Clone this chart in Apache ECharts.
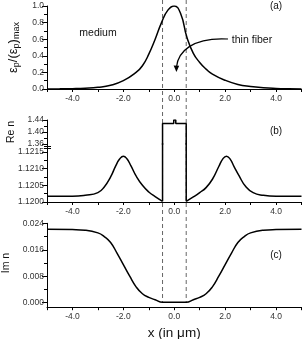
<!DOCTYPE html>
<html><head><meta charset="utf-8">
<script src="https://cdn.jsdelivr.net/npm/echarts@6/dist/echarts.min.js"></script>
<style>html,body{margin:0;padding:0;background:#fff}#c{width:304px;height:339px}</style>
</head><body><div id="c"></div>
<script>
// Panel (a): normalized intensity
const aX = [-5, -4.5, -4, -3.5, -3, -2.5, -2, -1.5, -1.25, -1, -0.75, -0.5, -0.25, 0, 0.25, 0.5, 0.75, 1, 1.25, 1.5, 2, 2.5, 3, 3.5, 4, 4.5, 5];
const aY = [0.001, 0.002, 0.004, 0.009, 0.02, 0.045, 0.10, 0.20, 0.28, 0.42, 0.60, 0.80, 0.95, 1.0, 0.91, 0.62, 0.43, 0.32, 0.24, 0.18, 0.105, 0.055, 0.03, 0.015, 0.007, 0.003, 0.001];
// Panel (b): Re n
const bLeftX = [-5, -4, -3.5, -3, -2.75, -2.5, -2.3, -2.14, -2, -1.86, -1.7, -1.5, -1.25, -1, -0.75, -0.46];
const bLeftY = [1.12017, 1.12017, 1.12020, 1.12028, 1.12045, 1.12075, 1.12108, 1.12129, 1.12137, 1.12129, 1.12108, 1.12078, 1.12050, 1.12030, 1.12016, 1.12002];
const bRightX = [0.47, 0.75, 1.0, 1.25, 1.5, 1.75, 1.91, 2.05, 2.19, 2.35, 2.55, 2.8, 3.1, 3.5, 4, 5];
const bRightY = [1.12002, 1.12015, 1.12028, 1.12043, 1.12068, 1.12106, 1.12129, 1.12137, 1.12129, 1.12106, 1.12078, 1.12047, 1.12028, 1.12020, 1.12017, 1.12017];
const stepX = [-0.46, -0.46, -0.02, -0.02, 0.06, 0.06, 0.47, 0.47];
const stepY = [1.12002, 1.428, 1.428, 1.44, 1.44, 1.428, 1.428, 1.12002];
// Panel (c): Im n
const cX = [-5, -4, -3.5, -3, -2.75, -2.5, -2.25, -2, -1.75, -1.5, -1.25, -1, -0.75, -0.46, 0.47, 0.75, 1, 1.25, 1.5, 1.75, 2, 2.25, 2.5, 2.75, 3, 3.5, 4, 5];
const cY = [0.0222, 0.0221, 0.0219, 0.0211, 0.0200, 0.0182, 0.0150, 0.0115, 0.0080, 0.0048, 0.0027, 0.0016, 0.0009, 0.0001, 0.0001, 0.0009, 0.0016, 0.0027, 0.0048, 0.0080, 0.0115, 0.0150, 0.0182, 0.0200, 0.0211, 0.0219, 0.0221, 0.0222];
// Ticks / labels
const xTickLabels = [-4, -2, 0, 2, 4];
const fiberEdges = [-0.46, 0.47];
const yTicksA = {min: 0, max: 1, interval: 0.2};
const yTicksBUp = {min: 1.36, max: 1.44, interval: 0.04};
const yTicksBLow = {min: 1.1200, max: 1.121733, interval: 0.0005};
const yTicksC = {min: 0, max: 0.024, interval: 0.008};

const pairs = (xs, ys) => xs.map((x, i) => [x, ys[i]]);
const FONT = 'Liberation Sans, Arial, sans-serif';
const chart = echarts.init(document.getElementById('c'), null, {renderer: 'canvas'});
const X_OFFSET_C = 4.5;

function xAxisCfg(grid, extra) {
  return Object.assign({
    type: 'value', gridIndex: grid, min: -5, max: 5, interval: 1,
    axisLine: {show: true, onZero: false, lineStyle: {color: '#000', width: 1}},
    axisTick: {show: true, length: 3, lineStyle: {color: '#000'}},
    axisLabel: {
      fontSize: 8.5, color: '#333', fontFamily: FONT, margin: 5,
      formatter: v => xTickLabels.some(t => Math.abs(t - v) < 1e-9) ? v.toFixed(1) : ''
    },
    splitLine: {show: false}
  }, extra || {});
}
function yAxisCfg(grid, t, dec, extra) {
  return Object.assign({
    type: 'value', gridIndex: grid, min: t.min, max: t.max, interval: t.interval,
    axisLine: {show: true, onZero: false, lineStyle: {color: '#000', width: 1}},
    axisTick: {show: true, length: 5, lineStyle: {color: '#000'}},
    minorTick: {show: true, splitNumber: 2, length: 3, lineStyle: {color: '#000'}},
    axisLabel: {fontSize: 8.5, color: '#333', fontFamily: FONT, margin: 3,
      formatter: v => v.toFixed(dec)},
    splitLine: {show: false},
    nameLocation: 'middle',
    nameTextStyle: {fontFamily: FONT, color: '#111', fontSize: 10.5}
  }, extra || {});
}
const lineStyle = {color: '#000', width: 1.5};
function ser(xi, yi, data, smooth) {
  return {type: 'line', xAxisIndex: xi, yAxisIndex: yi, data: data, showSymbol: false, symbol: 'none',
    smooth: smooth ? 0.5 : false, clip: true, lineStyle: lineStyle, silent: true, animation: false};
}
const G = o => Object.assign({left: 47, right: 2.5, containLabel: false, outerBoundsMode: 'none'}, o);

chart.setOption({
  animation: false,
  grid: [
    G({top: 6, bottom: 250}),
    G({top: 120, height: 24}),
    G({top: 144, bottom: 137}),
    G({top: 223.3, bottom: 36.3})
  ],
  xAxis: [
    xAxisCfg(0),
    xAxisCfg(1, {show: false}),
    xAxisCfg(2),
    xAxisCfg(3, {offset: X_OFFSET_C, name: 'x (in μm)', nameLocation: 'middle', nameGap: 19,
      nameTextStyle: {fontFamily: FONT, fontSize: 13.5, color: '#111'}})
  ],
  yAxis: [
    yAxisCfg(0, yTicksA, 1, {
      name: '{m|ε}{s|p}{m|/(ε}{s|p}{m|)}{s|max}', nameGap: 25,
      nameTextStyle: {fontFamily: FONT, color: '#111', fontSize: 13,
        rich: {
          m: {fontFamily: FONT, fontSize: 13, color: '#111', lineHeight: 16, verticalAlign: 'middle'},
          s: {fontFamily: FONT, fontSize: 9, color: '#111', lineHeight: 9, verticalAlign: 'bottom', padding: [5, 0, 0, 0]}
        }}
    }),
    yAxisCfg(1, yTicksBUp, 2, {name: 'Re n', nameGap: 30}),
    yAxisCfg(2, yTicksBLow, 4, {axisLabel: {fontSize: 8.5, color: '#333', fontFamily: FONT, margin: 3,
      showMaxLabel: false, formatter: v => v.toFixed(4)}}),
    yAxisCfg(3, yTicksC, 3, {name: 'Im n', nameGap: 30})
  ],
  series: [
    ser(0, 0, pairs(aX, aY), true),
    ser(1, 1, pairs(stepX, stepY), false),
    ser(2, 2, pairs(stepX, stepY), false),
    ser(2, 2, pairs(bLeftX, bLeftY), true),
    ser(2, 2, pairs(bRightX, bRightY), true),
    ser(3, 3, pairs(cX, cY), true)
  ]
});

// Overlay annotations; dashed fiber boundaries placed through the x scale
const xL = chart.convertToPixel({xAxisIndex: 0}, fiberEdges[0]);
const xR = chart.convertToPixel({xAxisIndex: 0}, fiberEdges[1]);
const yBottom = chart.convertToPixel({yAxisIndex: 3}, 0);
const xLeftC = chart.convertToPixel({xAxisIndex: 3}, -5);
const dash = x => ({type: 'line', z: 1, silent: true,
  shape: {x1: x, y1: 0, x2: x, y2: yBottom},
  style: {stroke: '#666', lineWidth: 1, lineDash: [4, 3]}});
const txt = (x, y, t, fs) => ({type: 'text', z: 10, silent: true, x: x, y: y,
  style: {text: t, fontFamily: FONT, fontSize: fs, fill: '#111', align: 'center', verticalAlign: 'middle'}});

chart.setOption({
  graphic: [
    dash(xL), dash(xR),
    txt(276, 6.5, '(a)', 10),
    txt(276, 131, '(b)', 10),
    txt(276, 255, '(c)', 10),
    txt(98, 33.5, 'medium', 10.5),
    txt(252, 40, 'thin fiber', 10.5),
    {type: 'bezierCurve', z: 10, silent: true,
      shape: {x1: 228, y1: 39, cpx1: 192, cpy1: 37, cpx2: 178, cpy2: 52, x2: 176.5, y2: 67},
      style: {stroke: '#000', lineWidth: 1.2, fill: null}},
    {type: 'polygon', z: 10, silent: true,
      shape: {points: [[176.4, 72], [173.6, 65.5], [179.2, 65.8]]},
      style: {fill: '#000'}},
    {type: 'line', z: 10, silent: true, shape: {x1: 44, y1: 146.5, x2: 51, y2: 146.5}, style: {stroke: '#000', lineWidth: 1}},
    {type: 'line', z: 10, silent: true, shape: {x1: 44, y1: 148.5, x2: 51, y2: 148.5}, style: {stroke: '#000', lineWidth: 1}},
    {type: 'line', z: 10, silent: true,
      shape: {x1: Math.round(xLeftC) + 0.5, y1: yBottom, x2: Math.round(xLeftC) + 0.5, y2: yBottom + X_OFFSET_C},
      style: {stroke: '#000', lineWidth: 1}}
  ]
});
</script></body></html>
